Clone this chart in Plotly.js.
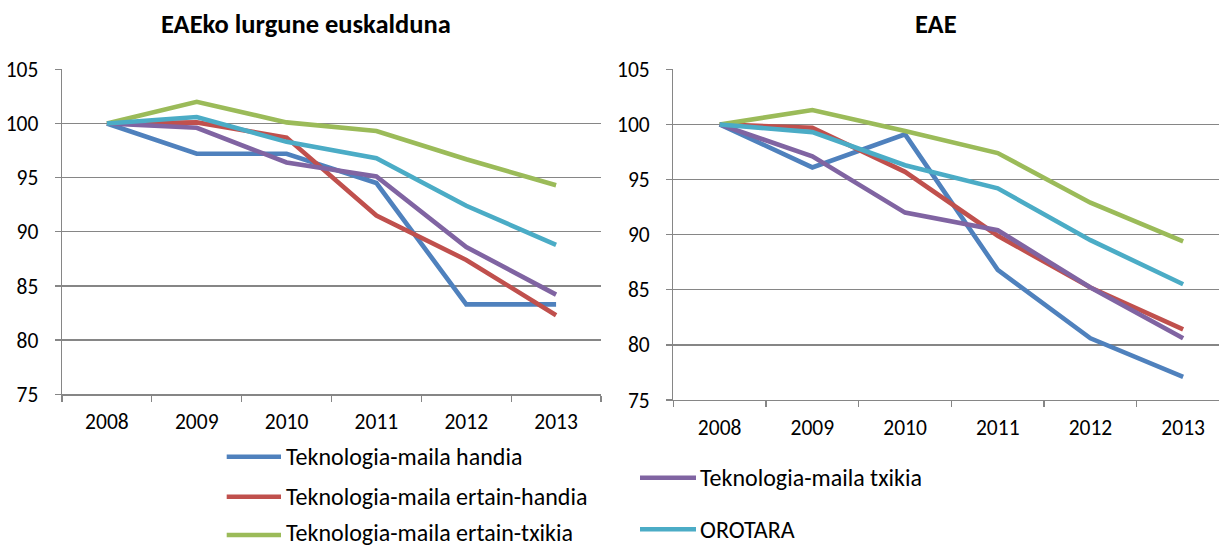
<!DOCTYPE html>
<html>
<head>
<meta charset="utf-8">
<script src="https://cdn.plot.ly/plotly-3.0.1.min.js"></script>
<style>html,body{margin:0;padding:0;background:#fff;}#chart{width:1219px;height:547px;}</style>
</head>
<body>
<div id="chart"></div>
<script>
const years = ['2008','2009','2010','2011','2012','2013'];
const seriesNames = ['Teknologia-maila handia','Teknologia-maila ertain-handia','Teknologia-maila ertain-txikia','Teknologia-maila txikia','OROTARA'];
const panelTitles = ['EAEko lurgune euskalduna','EAE'];
const yTicks = [75,80,85,90,95,100,105];

// EAEko lurgune euskalduna
const L_handia       = [100, 97.2, 97.2, 94.5, 83.3, 83.3];
const L_ertainHandia = [100, 100.1, 98.7, 91.5, 87.4, 82.3];
const L_ertainTxikia = [100, 102.0, 100.1, 99.3, 96.7, 94.3];
const L_txikia       = [100, 99.6, 96.4, 95.1, 88.6, 84.2];
const L_orotara      = [100, 100.6, 98.3, 96.8, 92.4, 88.8];
// EAE
const R_handia       = [100, 96.1, 99.1, 86.8, 80.6, 77.1];
const R_ertainHandia = [100, 99.7, 95.7, 89.9, 85.2, 81.4];
const R_ertainTxikia = [100, 101.3, 99.4, 97.4, 92.9, 89.4];
const R_txikia       = [100, 97.1, 92.0, 90.4, 85.2, 80.6];
const R_orotara      = [100, 99.3, 96.3, 94.2, 89.5, 85.5];

const colors = ['#4F81BD','#C0504D','#9BBB59','#8064A2','#4BACC6'];
const FONT = 'Carlito, Calibri, "Liberation Sans", Arial, sans-serif';

const left = [L_handia, L_ertainHandia, L_ertainTxikia, L_txikia, L_orotara];
const right = [R_handia, R_ertainHandia, R_ertainTxikia, R_txikia, R_orotara];

const traces = [];
left.forEach((ys, i) => {
  traces.push({
    x: years, y: ys, type: 'scatter', mode: 'lines', name: seriesNames[i],
    line: {color: colors[i], width: 4.6},
    xaxis: 'x', yaxis: 'y', showlegend: false
  });
});
right.forEach((ys, i) => {
  traces.push({
    x: years, y: ys, type: 'scatter', mode: 'lines', name: seriesNames[i],
    line: {color: colors[i], width: 4.6},
    xaxis: 'x2', yaxis: 'y2', showlegend: false
  });
});

const W = 1219, H = 547;
const px = v => v / W;
const py = v => 1 - v / H;

const axisCommon = {
  showline: true, linecolor: '#868686', linewidth: 1.3,
  tickfont: {family: FONT, size: 21.5, color: '#000'},
  ticks: 'outside', ticklen: 6, tickcolor: '#868686', tickwidth: 1.3,
  zeroline: false, fixedrange: true, automargin: false
};
const xCommon = Object.assign({}, axisCommon, {
  type: 'category', showgrid: false, tickson: 'boundaries', ticklabelstandoff: 8
});
const yCommon = Object.assign({}, axisCommon, {
  range: [75, 105], tickvals: yTicks, ticktext: yTicks.map(String),
  showgrid: true, gridcolor: '#868686', gridwidth: 1.3, ticklabelstandoff: 12
});

// legend entries drawn as shapes + annotations (series names / colours from arrays above)
const legendSpec = [
  {x0: 226.7, x1: 281, tx: 285, y: 456.7, ty: 456.7},
  {x0: 226.7, x1: 281, tx: 285, y: 496.7, ty: 496.7},
  {x0: 226.7, x1: 281, tx: 285, y: 535, ty: 532.5},
  {x0: 640, x1: 696, tx: 699, y: 477.7, ty: 477.7},
  {x0: 640, x1: 696, tx: 699, y: 529.3, ty: 529.3}
];
const shapes = [];
const annotations = [
  {text: '<b>' + panelTitles[0] + '</b>', x: px(305.8), y: py(24), xref: 'paper', yref: 'paper',
   xanchor: 'center', yanchor: 'middle', showarrow: false, font: {family: FONT, size: 26.5, color: '#000'}},
  {text: '<b>' + panelTitles[1] + '</b>', x: px(936), y: py(24), xref: 'paper', yref: 'paper',
   xanchor: 'center', yanchor: 'middle', showarrow: false, font: {family: FONT, size: 26.5, color: '#000'}}
];
seriesNames.forEach((name, i) => {
  const s = legendSpec[i];
  shapes.push({type: 'line', xref: 'paper', yref: 'paper', x0: px(s.x0), x1: px(s.x1), y0: py(s.y), y1: py(s.y),
               line: {color: colors[i], width: 4.5}});
  annotations.push({text: name, xref: 'paper', yref: 'paper', x: px(s.tx), y: py(s.ty),
                    xanchor: 'left', yanchor: 'middle', showarrow: false, borderpad: 0,
                    font: {family: FONT, size: 24, color: '#000'}});
});

const layout = {
  width: W, height: H,
  margin: {l: 0, r: 0, t: 0, b: 0},
  paper_bgcolor: '#fff', plot_bgcolor: '#fff',
  font: {family: FONT, color: '#000'},
  showlegend: false,
  xaxis: Object.assign({}, xCommon, {domain: [px(62), px(601)], range: [-0.5, 5.5], anchor: 'y'}),
  yaxis: Object.assign({}, yCommon, {domain: [py(394.3), py(69.3)], anchor: 'x'}),
  xaxis2: Object.assign({}, xCommon, {domain: [px(673.3), 1], range: [-0.5, 5.387], anchor: 'y2'}),
  yaxis2: Object.assign({}, yCommon, {domain: [py(400), py(69.3)], anchor: 'x2'}),
  shapes: shapes,
  annotations: annotations
};

Plotly.newPlot('chart', traces, layout, {staticPlot: true, displayModeBar: false});
</script>
</body>
</html>
